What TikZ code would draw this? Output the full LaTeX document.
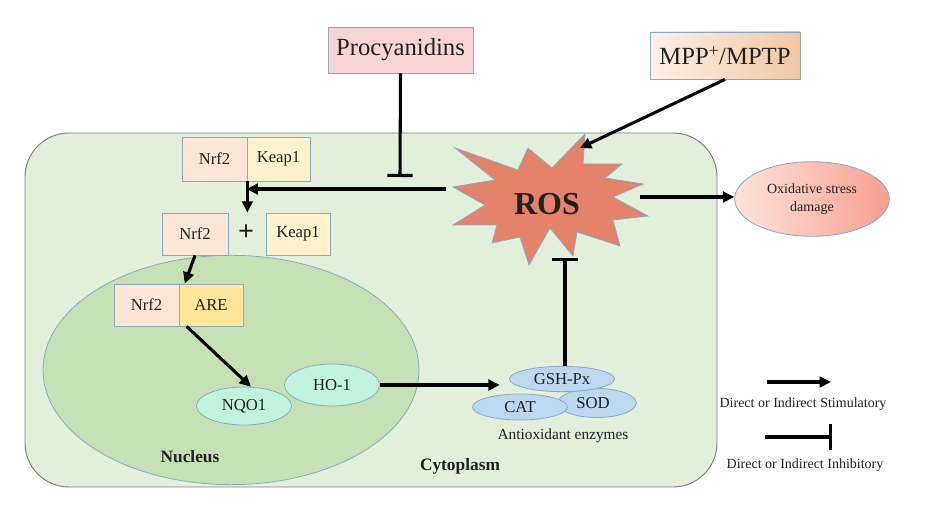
\documentclass[tikz,border=0pt]{standalone}
\usepackage{fontspec}
\setmainfont{Liberation Serif}
\usetikzlibrary{arrows.meta,shapes.geometric,shadings}
\definecolor{cytofill}{HTML}{E2EFDA}
\definecolor{cytoline}{HTML}{7F7F7F}
\definecolor{nucfill}{HTML}{C5E0B4}
\definecolor{bline}{HTML}{8EA9C8}
\definecolor{nrffill}{HTML}{FBE5D6}
\definecolor{keapfill}{HTML}{FFF2CC}
\definecolor{arefill}{HTML}{FFE699}
\definecolor{procfill}{HTML}{F8D5D5}
\definecolor{mppL}{HTML}{FDF1E8}
\definecolor{mppR}{HTML}{EFC6A2}
\definecolor{rosfill}{HTML}{E5826A}
\definecolor{mint}{HTML}{BFF3DD}
\definecolor{enzfill}{HTML}{BDD7EE}
\definecolor{oxL}{HTML}{FDE3DD}
\definecolor{oxR}{HTML}{F8A08F}
\definecolor{txt}{HTML}{222222}
\begin{document}
\begin{tikzpicture}[x=0.75pt,y=-0.75pt,
  every node/.style={text=txt},
  box/.style={draw=bline, line width=0.6pt, inner sep=0pt, font=\fontsize{12.5}{14}\selectfont},
  oval/.style={ellipse, draw=bline, line width=0.6pt, inner sep=0pt, font=\fontsize{12.5}{14}\selectfont},
  arr/.style={line width=2.3pt, -{Triangle[length=8.5pt,width=8pt]}},
  inh/.style={line width=2.3pt, -{Bar[width=19pt,line width=2.3pt]}},
  lbl/.style={inner sep=0pt}
]
\useasboundingbox (0,0) rectangle (926,505);

% cytoplasm
\draw[fill=cytofill, draw=cytoline, line width=0.7pt, rounded corners=33pt] (25,133) rectangle (717,487);

% nucleus
\node[ellipse, draw=bline, fill=nucfill, line width=0.6pt, inner sep=0pt,
      minimum width=282pt, minimum height=172pt] (nucleus) at (231,370) {};

% top boxes
\node[box, fill=procfill, minimum width=108.75pt, minimum height=34.5pt,
      font=\fontsize{18.5}{20}\selectfont] (proc) at (400.5,50) {Procyanidins};
\node[box, left color=mppL, right color=mppR, minimum width=112.5pt, minimum height=35.25pt,
      font=\fontsize{18.5}{20}\selectfont] (mpp) at (725,55.5) {MPP\textsuperscript{+}/MPTP};

% Nrf2-Keap1 complex
\node[box, fill=nrffill, minimum width=48.75pt, minimum height=33pt] (nrfa) at (214.5,159) {Nrf2};
\node[box, fill=keapfill, minimum width=47.25pt, minimum height=33pt] (keapa) at (278.5,159) {Keap1};

% dissociated
\node[box, fill=nrffill, minimum width=49.5pt, minimum height=31.5pt] (nrfb) at (195,234) {Nrf2};
\node[lbl, font=\fontsize{21}{22}\selectfont\bfseries] (plus) at (246,233) {+};
\node[box, fill=keapfill, minimum width=48pt, minimum height=31.5pt] (keapb) at (298,234) {Keap1};

% Nrf2-ARE
\node[box, fill=nrffill, minimum width=48.75pt, minimum height=31.5pt] (nrfc) at (146.5,305) {Nrf2};
\node[box, fill=arefill, minimum width=48pt, minimum height=31.5pt] (are) at (211,305) {ARE};

% NQO1, HO-1
\node[oval, fill=mint, minimum width=71.25pt, minimum height=28.5pt] (nqo) at (244,406) {NQO1};
\node[oval, fill=mint, minimum width=71.25pt, minimum height=31.5pt] (ho) at (332,385) {HO-1};

% enzymes
\node[oval, fill=enzfill, minimum width=59pt, minimum height=21.75pt] (sod) at (597,403) {\hspace*{-6pt}SOD};
\node[oval, fill=enzfill, minimum width=71.25pt, minimum height=19.5pt] (cat) at (520,407) {CAT};
\node[oval, fill=enzfill, minimum width=78.75pt, minimum height=19pt] (gsh) at (562,379) {GSH-Px};
\node[lbl, font=\fontsize{11.5}{13}\selectfont] (enzlab) at (563,436) {Antioxidant enzymes};

% ROS star
\draw[fill=rosfill, draw=bline, line width=0.6pt]
  (585,134) -- (583,164) -- (622,164) -- (605,178) -- (643,184) -- (613,197)
  -- (648,216) -- (613,220) -- (620,246) -- (577,232) -- (573,256) -- (550,228)
  -- (529,265) -- (520,237) -- (492,243) -- (497,225) -- (453,225) -- (485,205)
  -- (453,187) -- (495,180) -- (455,148) -- (518,170) -- (528,148) -- (552,168) -- cycle;
\node[lbl, font=\fontsize{24}{26}\selectfont\bfseries] (ros) at (547,204) {ROS};
\coordinate (rosL) at (446,189);
\coordinate (rosR) at (640,197);
\coordinate (rosTR) at (580,148);
\coordinate (rosB) at (565,258);
\coordinate (procT) at (400,177);

% oxidative stress
\node[ellipse, draw=bline, line width=0.6pt, left color=oxL, right color=oxR, inner sep=0pt,
      minimum width=116pt, minimum height=56pt, align=center,
      font=\fontsize{10.5}{13}\selectfont] (oxid) at (812,199) {Oxidative stress\\damage};

% labels
\node[lbl, font=\fontsize{13}{15}\selectfont\bfseries] (nuclab) at (190,457) {Nucleus};
\node[lbl, font=\fontsize{13}{15}\selectfont\bfseries] (cytolab) at (460,466) {Cytoplasm};

% connectors
\draw[arr] (rosL) -- (rosL -| keapa.west);
\draw[arr] (nrfa.south east) -- (nrfa.south east |- nrfb.north);
\draw[inh] (proc.south) -- (procT);
\draw[arr] (mpp.south) -- (rosTR);
\draw[arr] (rosR) -- (rosR -| oxid.west);
\draw[arr] (nrfb.south) -- ([xshift=4pt]nrfc.north east);
\draw[arr] ([xshift=6pt]are.south west) -- (nqo.70);
\draw[arr, shorten >=7pt] (ho.east) -- (ho.east -| gsh.west);
\draw[inh] (gsh.north -| rosB) -- (rosB);

% legend
\coordinate (l1a) at (767,382);
\coordinate (l1b) at (831,382);
\coordinate (l2a) at (765,437);
\coordinate (l2b) at (832,437);
\draw[arr] (l1a) -- (l1b);
\draw[inh] (l2a) -- (l2b);
\node[lbl, font=\fontsize{10.5}{12}\selectfont] (leg1) at (803,404) {Direct or Indirect Stimulatory};
\node[lbl, font=\fontsize{10.5}{12}\selectfont] (leg2) at (805,465) {Direct or Indirect Inhibitory};
\end{tikzpicture}
\end{document}
